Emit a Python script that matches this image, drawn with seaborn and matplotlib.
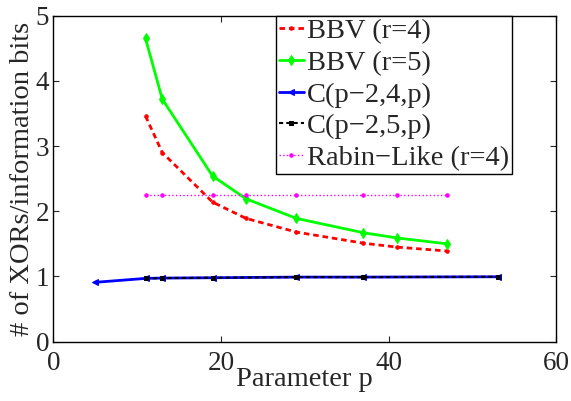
import numpy as np
import pandas as pd
import seaborn as sns
import matplotlib.pyplot as plt

# Values
p_bbv = [11, 13, 19, 23, 29, 37, 41, 47]
bbv_r4 = [3.46, 2.90, 2.14, 1.89, 1.68, 1.51, 1.45, 1.39]
bbv_r5 = [4.65, 3.72, 2.54, 2.19, 1.89, 1.67, 1.59, 1.50]
rabin_r4 = [2.25, 2.25, 2.25, 2.25, 2.25, 2.25, 2.25, 2.25]

p_c4 = [5, 11, 13, 19, 29, 37, 53]
c4 = [0.91, 0.97, 0.975, 0.98, 0.99, 0.99, 0.995]
p_c5 = [11, 13, 19, 29, 37, 53]
c5 = [0.97, 0.975, 0.98, 0.99, 0.99, 0.995]

sns.set_style('ticks')
plt.rcParams['font.family'] = ['Liberation Serif', 'DejaVu Serif']

fig = plt.figure(figsize=(5.71, 4.01), dpi=100)
ax = fig.add_axes([0.0933, 0.148, 0.881, 0.813])

# MATLAB-like line styles
sns.lineplot(x=p_bbv, y=bbv_r4, ax=ax, color='red', linestyle=(0, (2, 1.4)), linewidth=2,
             marker='.', markersize=5, markeredgecolor='red', label='BBV (r=4)')
sns.lineplot(x=p_bbv, y=bbv_r5, ax=ax, color=(0, 1, 0), linestyle='-', linewidth=2,
             marker='d', markersize=5, markeredgecolor=(0, 1, 0), label='BBV (r=5)')
sns.lineplot(x=p_c4, y=c4, ax=ax, color='blue', linestyle='-', linewidth=2,
             marker='<', markersize=5, markeredgecolor='blue', label='C(p\u22122,4,p)')
sns.lineplot(x=p_c5, y=c5, ax=ax, color='black', linestyle=(0, (2, 1.5)), linewidth=1.5,
             marker='s', markersize=3.5, markeredgecolor='black', markerfacecolor='black',
             label='C(p\u22122,5,p)')
sns.lineplot(x=p_bbv, y=rabin_r4, ax=ax, color='magenta', linestyle=':', linewidth=1,
             marker='.', markersize=5, markeredgecolor='magenta', label='Rabin\u2212Like (r=4)')

ax.set_xlim(0, 60)
ax.set_ylim(0, 5)
ax.set_xticks([0, 20, 40, 60])
ax.set_yticks([0, 1, 2, 3, 4, 5])
ax.tick_params(direction='in', top=True, right=True, labelsize=19.5, length=4)
ax.tick_params(axis='x', pad=7)
ax.tick_params(axis='y', pad=3)
for s in ax.spines.values():
    s.set_linewidth(1)
    s.set_color('black')

ax.set_xlabel('Parameter p', fontsize=20.5, labelpad=-7)
ax.set_ylabel('# of XORs/information bits', fontsize=20.5, labelpad=0)

leg = ax.legend(loc='upper right', bbox_to_anchor=(0.912, 1.0), fontsize=20.5,
                frameon=True, fancybox=False, edgecolor='black', framealpha=1,
                handlelength=0.9, handletextpad=0.1, borderpad=0.1,
                labelspacing=0.2, borderaxespad=0)
leg.get_frame().set_linewidth(1)

fig.savefig('out.png', dpi=100)
